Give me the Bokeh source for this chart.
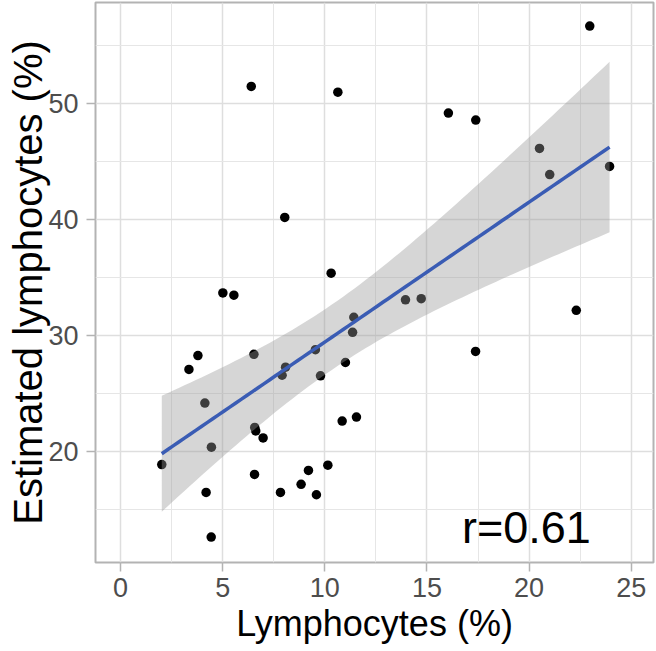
import numpy as np
from bokeh.plotting import figure
from bokeh.models import Range1d, FixedTicker
from bokeh.core.properties import value
from bokeh.embed import file_html
from bokeh.resources import INLINE

# Data
lymphocytes = [6.40, 10.64, 8.04, 10.31, 22.97, 16.05, 17.39, 20.51, 21.01, 23.94,
               5.01, 5.55, 11.42, 11.36, 3.79, 6.53, 3.35, 9.54, 8.08, 7.91,
               11.01, 9.79, 4.13, 6.57, 6.62, 6.98, 10.85, 11.55, 4.45, 2.02,
               6.56, 4.19, 7.83, 8.84, 9.20, 9.59, 10.15, 4.44, 13.95, 14.72,
               22.31, 17.38]
estimated = [51.5, 51.0, 40.2, 35.4, 56.7, 49.2, 48.6, 46.15, 43.9, 44.6,
             33.7, 33.5, 31.6, 30.3, 28.3, 28.4, 27.1, 28.8, 27.3, 26.6,
             27.7, 26.55, 24.2, 22.1, 21.8, 21.2, 22.65, 23.0, 20.4, 18.9,
             18.05, 16.5, 16.5, 17.2, 18.4, 16.3, 18.85, 12.65, 33.1, 33.2,
             32.2, 28.65]
x_ticks = [0, 5, 10, 15, 20, 25]
y_ticks = [20, 30, 40, 50]
r_label = "r=0.61"
x_title = "Lymphocytes (%)"
y_title = "Estimated lymphocytes (%)"

# Linear fit with 95% confidence band (like geom_smooth(method="lm"))
x = np.array(lymphocytes)
y = np.array(estimated)
n = len(x)
b1, b0 = np.polyfit(x, y, 1)
resid = y - (b0 + b1 * x)
s = np.sqrt(np.sum(resid ** 2) / (n - 2))
t_crit = 2.021  # t(0.975, df=40)
xs = np.linspace(x.min(), x.max(), 80)
fit = b0 + b1 * xs
se = s * np.sqrt(1.0 / n + (xs - x.mean()) ** 2 / np.sum((x - x.mean()) ** 2))
lower = fit - t_crit * se
upper = fit + t_crit * se

FONT = "Liberation Sans"

p = figure(width=656, height=651,
           x_range=Range1d(-1.224, 26.09), y_range=Range1d(10.46, 58.73),
           output_backend="svg", toolbar_location=None,
           min_border_left=95, min_border_right=3, min_border_top=2,
           min_border_bottom=89)
p.background_fill_color = "white"
p.border_fill_color = "white"
p.outline_line_color = "#B3B3B3"
p.outline_line_width = 2

p.scatter(lymphocytes, estimated, size=9.5, color="black", line_color=None)
p.varea(x=xs, y1=lower, y2=upper, fill_color="#999999", fill_alpha=0.4)
p.line(xs, fit, line_color="#3A5CB4", line_width=3.5)

p.text(x=[19.87], y=[13.45], text=[r_label], text_font=value(FONT),
       text_font_size="45px", text_align="center", text_baseline="alphabetic",
       text_color="black")

for ax, ticks in ((p.xaxis[0], x_ticks), (p.yaxis[0], y_ticks)):
    step = ticks[1] - ticks[0]
    ax.ticker = FixedTicker(ticks=ticks,
                            minor_ticks=[t + step / 2 for t in [ticks[0] - step] + ticks])
    ax.axis_line_color = None
    ax.major_tick_line_color = "#B3B3B3"
    ax.major_tick_line_width = 1.5
    ax.major_tick_out = 9
    ax.major_tick_in = 0
    ax.minor_tick_line_color = None
    ax.major_label_text_font = FONT
    ax.major_label_text_font_size = "27px"
    ax.major_label_text_color = "#4D4D4D"
    ax.axis_label_text_font = FONT
    ax.axis_label_text_font_style = "normal"
    ax.axis_label_text_color = "black"

p.xaxis.axis_label = x_title
p.yaxis.axis_label = y_title
p.xaxis.axis_label_text_font_size = "36px"
p.yaxis.axis_label_text_font_size = "40px"
p.xaxis.major_label_standoff = 6
p.yaxis.major_label_standoff = 8
p.xaxis.axis_label_standoff = 3
p.yaxis.axis_label_standoff = -5

for g in (p.xgrid[0], p.ygrid[0]):
    g.grid_line_color = "#DEDEDE"
    g.grid_line_width = 1.5
    g.minor_grid_line_color = "#E6E6E6"
    g.minor_grid_line_width = 1

open("out.html", "w").write(file_html(p, INLINE))
